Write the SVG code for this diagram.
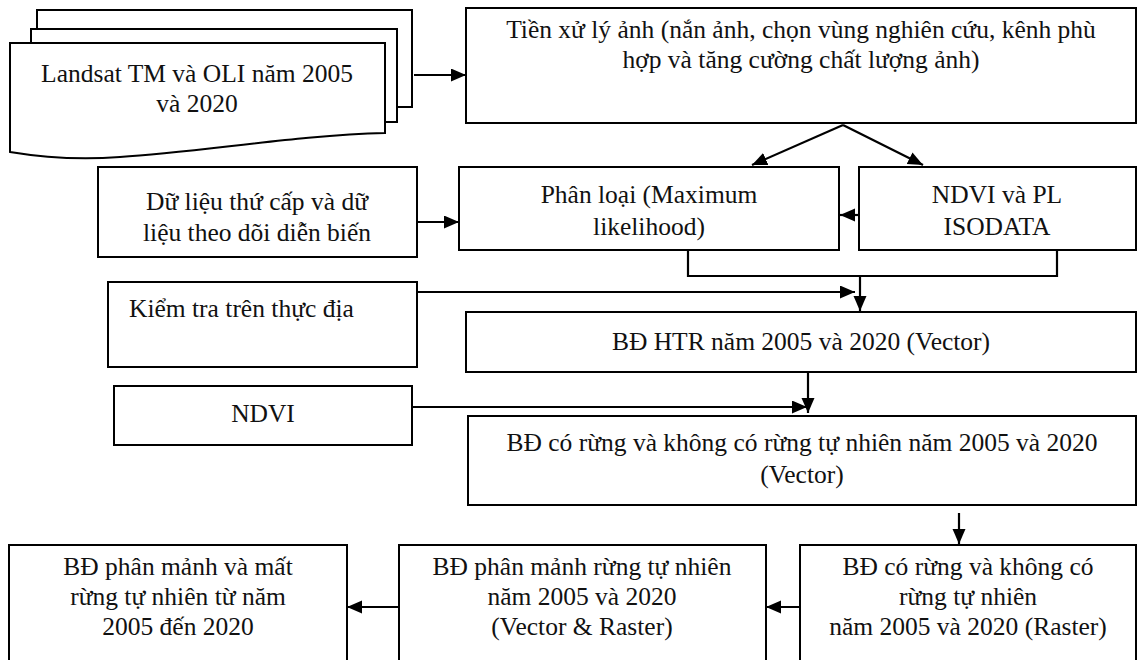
<svg xmlns="http://www.w3.org/2000/svg" width="1140" height="660" viewBox="0 0 1140 660">
<style>
.box{fill:#fff;stroke:#000;stroke-width:2}
.t{font-family:"Liberation Serif","Times New Roman",serif;font-size:25.5px;fill:#111;text-anchor:middle}
.tl{text-anchor:start}
.c{fill:none;stroke:#000;stroke-width:2.2}
</style>
<defs>
<marker id="ah" markerUnits="userSpaceOnUse" markerWidth="16" markerHeight="14" refX="15" refY="6.5" orient="auto">
<path d="M0,0 L15,6.5 L0,13 Z" fill="#000"/>
</marker>
</defs>
<rect width="1140" height="660" fill="#fff"/>

<g id="landsat">
<rect class="box" x="37" y="10" width="375" height="97"/>
<rect class="box" x="31" y="29" width="366" height="93"/>
<path class="box" d="M10,43 H385 V133 C300,135 200,152 120,157 C80,160 40,157 10,152 Z"/>
<text class="t" x="197" y="82">Landsat TM và OLI năm 2005</text>
<text class="t" x="197" y="112">và 2020</text>
</g>

<g id="tienxuly">
<rect class="box" x="466" y="8" width="670" height="115"/>
<text class="t" x="801" y="38">Tiền xử lý ảnh (nắn ảnh, chọn vùng nghiên cứu, kênh phù</text>
<text class="t" x="801" y="68">hợp và tăng cường chất lượng ảnh)</text>
</g>

<g id="dulieu">
<rect class="box" x="98" y="167" width="319" height="90"/>
<text class="t" x="257" y="210">Dữ liệu thứ cấp và dữ</text>
<text class="t" x="257" y="241">liệu theo dõi diễn biến</text>
</g>

<g id="phanloai">
<rect class="box" x="459" y="167" width="380" height="83"/>
<text class="t" x="649" y="203">Phân loại (Maximum</text>
<text class="t" x="649" y="235">likelihood)</text>
</g>

<g id="ndvipl">
<rect class="box" x="859" y="167" width="277" height="83"/>
<text class="t" x="997" y="203">NDVI và PL</text>
<text class="t" x="997" y="235">ISODATA</text>
</g>

<g id="kiemtra">
<rect class="box" x="108" y="282" width="309" height="85"/>
<text class="t tl" x="129" y="317">Kiểm tra trên thực địa</text>
</g>

<g id="htr">
<rect class="box" x="466" y="312" width="670" height="60"/>
<text class="t" x="801" y="350">BĐ HTR năm 2005 và 2020 (Vector)</text>
</g>

<g id="ndvi">
<rect class="box" x="114" y="386" width="298" height="59"/>
<text class="t" x="263" y="422">NDVI</text>
</g>

<g id="corung-vector">
<rect class="box" x="468" y="416" width="668" height="89"/>
<text class="t" x="802" y="451">BĐ có rừng và không có rừng tự nhiên năm 2005 và 2020</text>
<text class="t" x="802" y="483">(Vector)</text>
</g>

<g id="matrung">
<rect class="box" x="9" y="545" width="338" height="125"/>
<text class="t" x="178" y="575">BĐ phân mảnh và mất</text>
<text class="t" x="178" y="605">rừng tự nhiên từ năm</text>
<text class="t" x="178" y="635">2005 đến 2020</text>
</g>

<g id="phanmanh">
<rect class="box" x="399" y="545" width="367" height="125"/>
<text class="t" x="582" y="575">BĐ phân mảnh rừng tự nhiên</text>
<text class="t" x="582" y="605">năm 2005 và 2020</text>
<text class="t" x="582" y="635">(Vector &amp; Raster)</text>
</g>

<g id="corung-raster">
<rect class="box" x="800" y="545" width="336" height="125"/>
<text class="t" x="968" y="575">BĐ có rừng và không có</text>
<text class="t" x="968" y="605">rừng tự nhiên</text>
<text class="t" x="968" y="635">năm 2005 và 2020 (Raster)</text>
</g>

<g id="connectors">
<line class="c" x1="414" y1="75" x2="466" y2="75" marker-end="url(#ah)"/>
<line class="c" x1="843" y1="125" x2="752" y2="165" marker-end="url(#ah)"/>
<line class="c" x1="843" y1="125" x2="923" y2="165" marker-end="url(#ah)"/>
<line class="c" x1="417" y1="222" x2="459" y2="222" marker-end="url(#ah)"/>
<line class="c" x1="859" y1="215" x2="840" y2="215" marker-end="url(#ah)"/>
<polyline class="c" points="688,250 688,276 1057,276 1057,250"/>
<line class="c" x1="860" y1="276" x2="860" y2="311" marker-end="url(#ah)"/>
<line class="c" x1="417" y1="292" x2="855" y2="292" marker-end="url(#ah)"/>
<line class="c" x1="808" y1="372" x2="808" y2="413" marker-end="url(#ah)"/>
<line class="c" x1="413" y1="407" x2="807" y2="407" marker-end="url(#ah)"/>
<line class="c" x1="959" y1="513" x2="959" y2="544" marker-end="url(#ah)"/>
<line class="c" x1="800" y1="607" x2="766" y2="607" marker-end="url(#ah)"/>
<line class="c" x1="399" y1="607" x2="347" y2="607" marker-end="url(#ah)"/>
</g>
</svg>
